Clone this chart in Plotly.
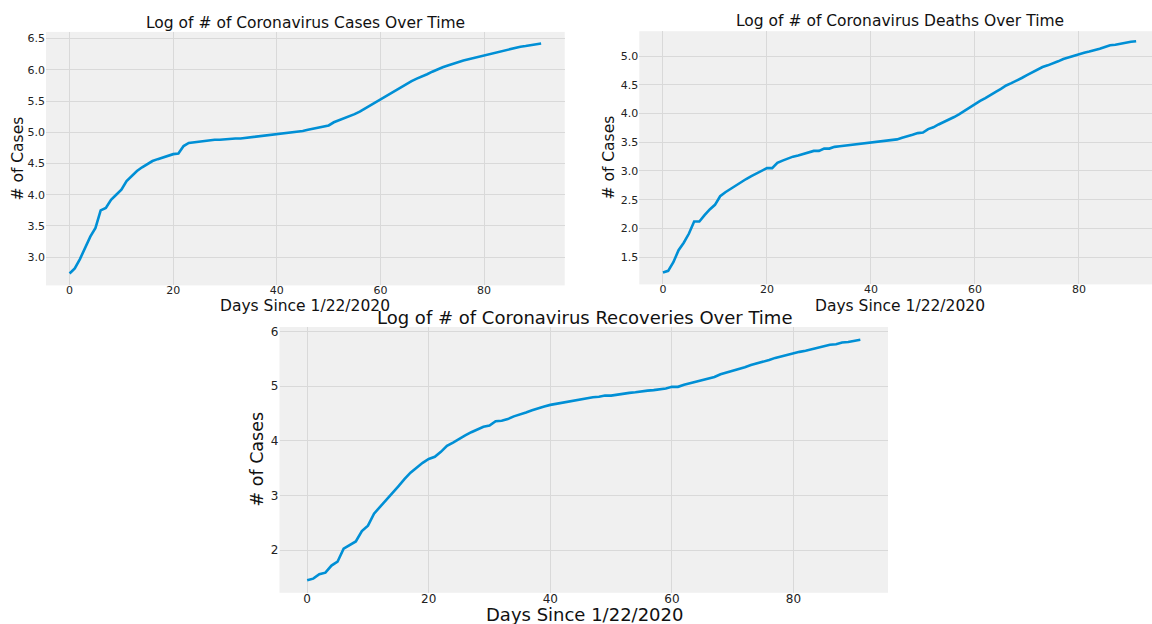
import plotly.graph_objects as go

# ---- data (log10 of global counts, days since 1/22/2020) ----
days = list(range(92))

log_cases = [2.74, 2.82, 2.97, 3.16, 3.33, 3.47, 3.75, 3.79, 3.92, 4.00,
             4.08, 4.22, 4.30, 4.38, 4.44, 4.49, 4.54, 4.57, 4.60, 4.63,
             4.65, 4.66, 4.78, 4.83, 4.84, 4.85, 4.86, 4.88, 4.88, 4.88,
             4.89, 4.90, 4.90, 4.90, 4.91, 4.91, 4.92, 4.93, 4.94, 4.95,
             4.96, 4.97, 4.98, 4.99, 5.01, 5.02, 5.04, 5.06, 5.07, 5.10,
             5.11, 5.16, 5.19, 5.22, 5.26, 5.29, 5.33, 5.38, 5.43, 5.48,
             5.53, 5.58, 5.62, 5.67, 5.72, 5.77, 5.82, 5.86, 5.89, 5.93,
             5.97, 6.01, 6.04, 6.07, 6.10, 6.12, 6.15, 6.17, 6.19, 6.22,
             6.24, 6.26, 6.28, 6.30, 6.31, 6.33, 6.35, 6.37, 6.38, 6.39,
             6.41, 6.42]

log_deaths = [1.23, 1.26, 1.41, 1.62, 1.75, 1.91, 2.12, 2.12, 2.23, 2.33,
              2.41, 2.56, 2.63, 2.69, 2.75, 2.80, 2.86, 2.91, 2.96, 3.01,
              3.05, 3.05, 3.14, 3.18, 3.22, 3.25, 3.27, 3.30, 3.33, 3.35,
              3.35, 3.39, 3.39, 3.42, 3.43, 3.44, 3.45, 3.46, 3.47, 3.48,
              3.49, 3.50, 3.51, 3.52, 3.54, 3.55, 3.58, 3.60, 3.63, 3.66,
              3.67, 3.73, 3.76, 3.81, 3.85, 3.90, 3.94, 3.99, 4.05, 4.11,
              4.17, 4.22, 4.27, 4.33, 4.38, 4.43, 4.49, 4.53, 4.57, 4.62,
              4.67, 4.72, 4.77, 4.81, 4.84, 4.87, 4.91, 4.95, 4.98, 5.01,
              5.04, 5.06, 5.08, 5.10, 5.13, 5.16, 5.19, 5.20, 5.22, 5.23,
              5.25, 5.26]

log_recoveries = [1.45, 1.48, 1.56, 1.59, 1.72, 1.79, 2.03, 2.10, 2.16, 2.35,
                  2.45, 2.67, 2.79, 2.93, 3.05, 3.17, 3.30, 3.42, 3.51, 3.60,
                  3.67, 3.71, 3.80, 3.91, 3.97, 4.04, 4.10, 4.16, 4.21, 4.26,
                  4.28, 4.36, 4.37, 4.40, 4.45, 4.48, 4.52, 4.56, 4.60, 4.63,
                  4.66, 4.68, 4.71, 4.73, 4.75, 4.77, 4.78, 4.80, 4.81, 4.83,
                  4.83, 4.85, 4.86, 4.88, 4.89, 4.91, 4.92, 4.93, 4.94, 4.96,
                  4.99, 4.99, 5.03, 5.06, 5.09, 5.12, 5.14, 5.17, 5.22, 5.25,
                  5.29, 5.32, 5.35, 5.39, 5.42, 5.44, 5.48, 5.52, 5.55, 5.58,
                  5.60, 5.63, 5.65, 5.68, 5.71, 5.73, 5.76, 5.77, 5.80, 5.81,
                  5.83, 5.85]

titles = ["Log of # of Coronavirus Cases Over Time",
          "Log of # of Coronavirus Deaths Over Time",
          "Log of # of Coronavirus Recoveries Over Time"]
x_label = "Days Since 1/22/2020"
y_label = "# of Cases"

W, H = 1152, 624
BLUE = "#008fd5"
BG = "#f0f0f0"
GRID = "#d9d9d9"
FONT = "DejaVu Sans"


def px(x):
    return x / W


def py(y):
    return 1 - y / H


fig = go.Figure()
for i, ys in enumerate([log_cases, log_deaths, log_recoveries]):
    sfx = "" if i == 0 else str(i + 1)
    fig.add_trace(go.Scatter(x=days, y=ys, mode="lines",
                             line=dict(color=BLUE, width=2.6),
                             xaxis="x" + sfx, yaxis="y" + sfx,
                             showlegend=False, hoverinfo="x+y"))

common = dict(showgrid=True, gridcolor=GRID, gridwidth=1, zeroline=False,
              showline=False, ticks="", color="#444")

fig.update_layout(
    width=W, height=H,
    margin=dict(l=0, r=0, t=0, b=0),
    paper_bgcolor="white",
    plot_bgcolor=BG,
    font=dict(family=FONT, color="#222"),
    xaxis=dict(domain=[px(46), px(564.7)], range=[-4.55, 95.55], dtick=20,
               tick0=0, anchor="y", ticklabelstandoff=-3,
               tickfont=dict(size=11, family=FONT), **common),
    yaxis=dict(domain=[py(284.3), py(30)], range=[2.549, 6.607], dtick=0.5,
               tick0=0, tickformat=".1f", anchor="x",
               tickfont=dict(size=11, family=FONT), **common),
    xaxis2=dict(domain=[px(639.3), 1.0], range=[-4.55, 94.05], dtick=20,
                tick0=0, anchor="y2", ticklabelstandoff=-3,
                tickfont=dict(size=11, family=FONT), **common),
    yaxis2=dict(domain=[py(283.3), py(29.3)], range=[1.024, 5.435], dtick=0.5,
                tick0=0, tickformat=".1f", anchor="x2",
                tickfont=dict(size=11, family=FONT), **common),
    xaxis3=dict(domain=[px(279.5), px(888)], range=[-4.55, 95.55], dtick=20,
                tick0=0, anchor="y3", ticklabelstandoff=-3,
                tickfont=dict(size=12, family=FONT), **common),
    yaxis3=dict(domain=[py(592.7), py(326)], range=[1.2213, 6.0857], dtick=1,
                tick0=0, anchor="x3", tickfont=dict(size=12, family=FONT), **common),
)

ann = []
def add_text(text, x, y, size, angle=0):
    ann.append(dict(text=text, x=px(x), y=py(y), xref="paper", yref="paper",
                    xanchor="center", yanchor="middle", showarrow=False,
                    textangle=angle, font=dict(size=size, family=FONT, color="#111")))

add_text(titles[0], 305, 21, 15.5)
add_text(titles[1], 900, 19, 15.5)
add_text(titles[2], 584, 317, 18)
add_text(x_label, 305, 304.5, 15.5)
add_text(x_label, 900, 304.5, 15.5)
add_text(x_label, 584, 614, 18)
add_text(y_label, 18, 157, 15.5, -90)
add_text(y_label, 608, 156, 15.5, -90)
add_text(y_label, 257, 459, 17.5, -90)
fig.update_layout(annotations=ann)

fig.write_html("out.html", config={"displayModeBar": False},
               post_script="document.body.style.margin='0';")
